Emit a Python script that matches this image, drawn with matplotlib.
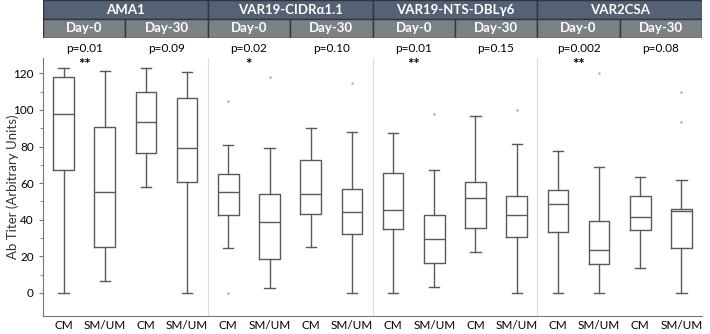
import numpy as np
import matplotlib
matplotlib.use('Agg')
import matplotlib.pyplot as plt
from matplotlib.patches import Rectangle

plt.rcParams['font.family'] = ['Lato', 'DejaVu Sans']

antigens = ['AMA1', 'VAR19-CIDR\u03b11.1', 'VAR19-NTS-DBL\u03b36', 'VAR2CSA']
days = ['Day-0', 'Day-30']
groups = ['CM', 'SM/UM']
p_values = ['p=0.01', 'p=0.09', 'p=0.02', 'p=0.10', 'p=0.01', 'p=0.15', 'p=0.002', 'p=0.08']
stars = ['**', '', '*', '', '**', '', '**', '']

# box stats, order: antigen > day > group
whis_lo = [0, 6.5, 58, 0, 24.5, 2.6, 25, 0, 0, 3.1, 22.6, 0, 0, 0, 13.8, 0]
q1 = [67, 25, 76.3, 60.5, 42.4, 18.4, 43, 32, 35, 16.6, 35.7, 30.4, 33.3, 15.7, 34.4, 24.4]
med = [98, 55.4, 93.4, 79, 55.4, 38.6, 54.3, 44.5, 45.5, 29.7, 52, 42.4, 48.5, 23.7, 41.5, 44.8]
q3 = [118, 90.5, 110, 106.7, 65.2, 54, 72.5, 57, 65.4, 42.4, 60.8, 53, 56.3, 39.2, 53, 46]
whis_hi = [123, 121.5, 123, 120.6, 81, 79.4, 90.3, 88, 87.6, 67.2, 96.7, 81.6, 77.4, 69, 63.2, 61.6]
outliers = [[], [], [], [], [105, 0], [118], [], [115], [], [98], [], [100], [], [120], [], [110, 93.6]]

stats = []
for i in range(len(med)):
    stats.append(dict(whislo=whis_lo[i], q1=q1[i], med=med[i], q3=q3[i],
                      whishi=whis_hi[i], fliers=outliers[i]))

n = len(stats)
pos = np.arange(1, n + 1)

fig = plt.figure(figsize=(7.1, 3.34), dpi=100)
ax = fig.add_axes([43 / 710, 1 - 316 / 334, 659 / 710, 258 / 334])

lc = '#5a5a5a'
ax.bxp(stats, positions=pos, widths=0.5, showfliers=True,
       boxprops=dict(color=lc, linewidth=1),
       medianprops=dict(color=lc, linewidth=1),
       whiskerprops=dict(color=lc, linewidth=1),
       capprops=dict(color=lc, linewidth=1),
       flierprops=dict(marker='.', markersize=1.5, markerfacecolor='#aaaaaa',
                       markeredgecolor='#aaaaaa'))

ax.set_xlim(0.5, n + 0.5)
ax.set_ylim(-12.6, 128.4)
ax.set_yticks([0, 20, 40, 60, 80, 100, 120])
ax.set_yticks(np.arange(10, 130, 20), minor=True)
ax.set_xticks(pos)
ax.set_xticklabels(groups * (n // 2), fontsize=8.5)
ax.tick_params(axis='x', length=0, pad=3)
ax.tick_params(axis='y', labelsize=8.5, color='#777777', length=3)
ax.tick_params(axis='y', which='minor', color='#777777', length=2)
ax.set_ylabel('Ab Titer (Arbitrary Units)', fontsize=9.5, color='#333333')
ax.yaxis.set_label_coords(-0.036, 0.5)
for s in ['top', 'right']:
    ax.spines[s].set_visible(False)
for s in ['left', 'bottom']:
    ax.spines[s].set_color('#777777')

# light separators between antigens
for k in range(1, len(antigens)):
    ax.axvline(4 * k + 0.5, color='#dddddd', linewidth=0.8, zorder=0)

# p values and stars per pair
for k in range(len(p_values)):
    xc = 2 * k + 1.5
    ax.text(xc, 133.5, p_values[k], ha='center', va='center', fontsize=8.5, clip_on=False)
    if stars[k]:
        ax.text(xc, 124.5, stars[k], ha='center', va='center', fontsize=11,
                fontweight='bold', clip_on=False)

# header table
hx = fig.add_axes([43 / 710, 1 - 38 / 334, 659 / 710, 38 / 334])
hx.set_xlim(0.5, n + 0.5)
hx.set_ylim(0, 2)
hx.axis('off')
for k, name in enumerate(antigens):
    x0 = 4 * k + 0.5
    hx.add_patch(Rectangle((x0, 1), 4, 1, facecolor='#556174', edgecolor='#2f3640', linewidth=1))
    hx.text(x0 + 2, 1.5, name, ha='center', va='center', color='white',
            fontsize=9.5, fontweight='bold')
    for d in range(2):
        xd = x0 + 2 * d
        hx.add_patch(Rectangle((xd, 0), 2, 1, facecolor='#7b8184', edgecolor='#2f3640', linewidth=1))
        hx.text(xd + 1, 0.5, days[d], ha='center', va='center', color='white',
                fontsize=9.5, fontweight='bold')

fig.savefig('out.png', dpi=100)
